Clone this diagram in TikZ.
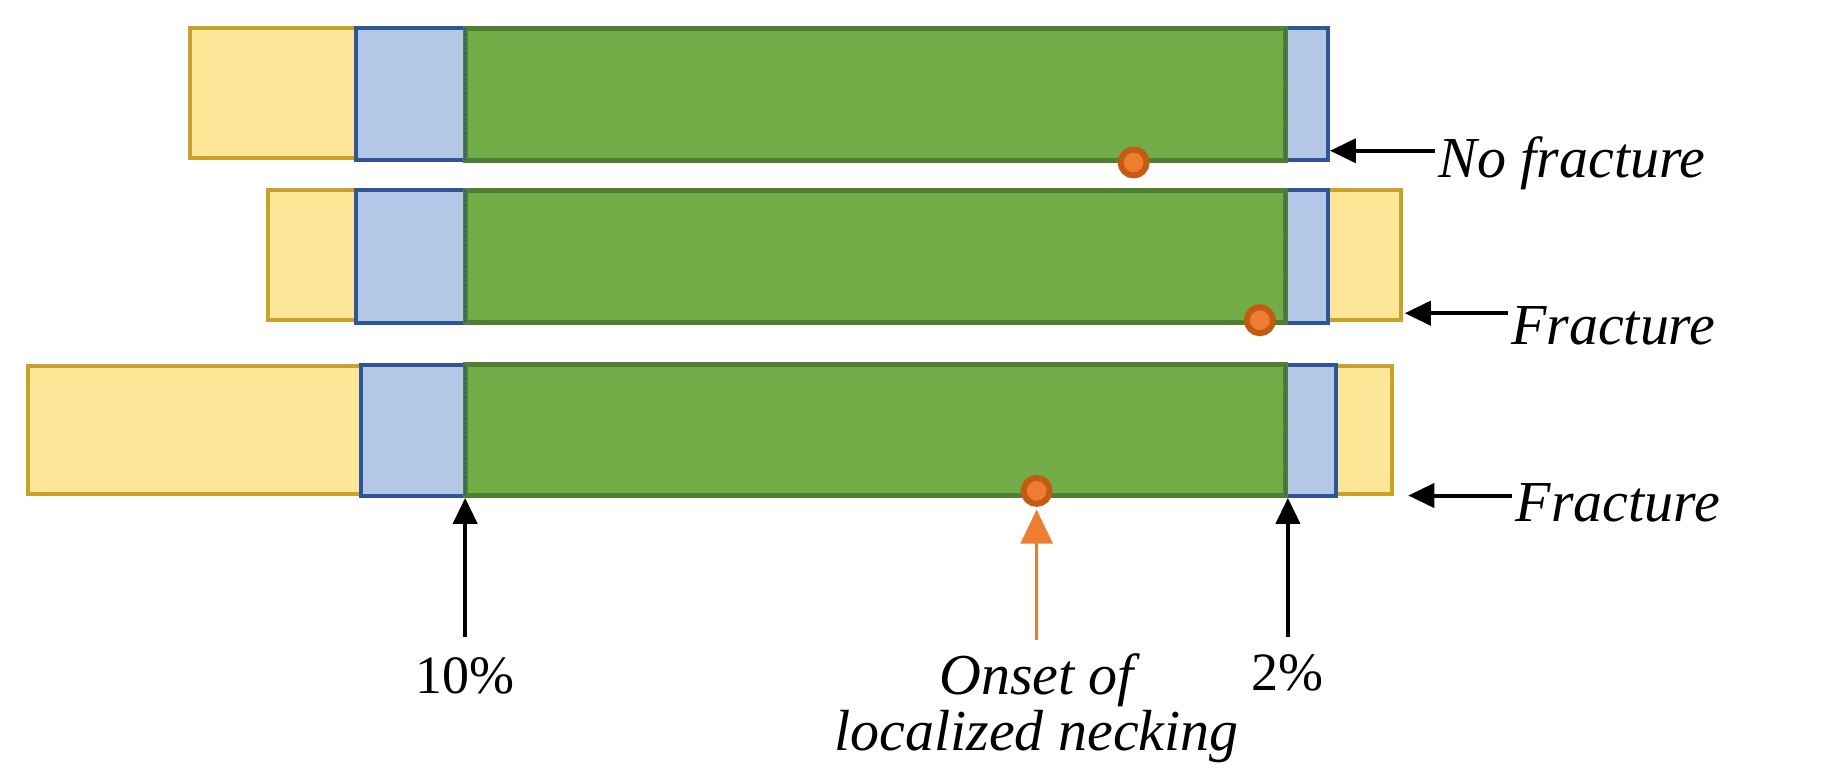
\documentclass[tikz,border=0pt]{standalone}
\usepackage{fontspec}
\setmainfont{Liberation Serif}
\usetikzlibrary{arrows.meta}
\definecolor{yel}{HTML}{FFE699}
\definecolor{yeld}{HTML}{C9A227}
\definecolor{blu}{HTML}{B4C7E7}
\definecolor{blud}{HTML}{2F5597}
\definecolor{grn}{HTML}{70AD47}
\definecolor{grnd}{HTML}{507E32}
\definecolor{org}{HTML}{ED7D31}
\definecolor{orgd}{HTML}{C55A11}
\begin{document}
\begin{tikzpicture}[x=1.169pt,y=-1.169pt,
 Y/.style={fill=yel,draw=yeld,line width=4pt},
 B/.style={fill=blu,draw=blud,line width=4pt},
 G/.style={fill=grn,draw=grnd,line width=5pt},
 dot/.style={circle,fill=org,draw=orgd,line width=6pt,minimum size=26pt,inner sep=0},
 ar/.style={-{Triangle[length=26pt,width=24pt]},line width=4pt},
 lab/.style={font=\fontsize{58}{64}\selectfont\itshape,anchor=west},
 pl/.style={font=\fontsize{54}{60}\selectfont}]
\useasboundingbox (0,0) rectangle (1565,666);
% row 1
\draw[Y] (163,24) rectangle (305,135);
\draw[B] (305,24) rectangle (398,137);
\draw[B] (1100,24) rectangle (1136,137);
\draw[G] (398,24) rectangle (1100,137);
\node[dot] (d1) at (970,139) {};
% row 2
\draw[Y] (229,163) rectangle (305,274);
\draw[Y] (1136,163) rectangle (1199,274);
\draw[B] (305,163) rectangle (398,276);
\draw[B] (1100,163) rectangle (1136,276);
\draw[G] (398,163) rectangle (1100,276);
\node[dot] (d2) at (1078,274) {};
% row 3
\draw[Y] (24,313) rectangle (309,423);
\draw[Y] (1143,313) rectangle (1191,423);
\draw[B] (309,312) rectangle (398,424);
\draw[B] (1100,312) rectangle (1143,424);
\draw[G] (398,312) rectangle (1100,424);
\node[dot] (d3) at (887,420) {};
\foreach \y/\z in {24/137,163/276,312/424}{
 \draw[blud,densely dotted,line width=1.5pt] (398,\y) -- (398,\z);
 \draw[blud,densely dotted,line width=1.5pt] (1100,\y) -- (1100,\z);}
% bottom labels
\node[pl] (p10) at (398,578) {10\%};
\node[pl] (p2) at (1102,576) {2\%};
\coordinate (t10) at (398,426);
\coordinate (t2) at (1102,426);
\draw[ar] (398,545) -- (t10);
\draw[ar] (1102,545) -- (t2);
\node[font=\fontsize{58}{56}\selectfont\itshape,align=center] (on) at (887,606) {Onset of\\localized necking};
\coordinate (to) at (887,436);
\draw[org,line width=2.5pt,-{Triangle[length=34pt,width=32pt]}] (887,548) -- (to);
% right labels
\node[lab] (l1) at (1228,140) {No fracture};
\node[lab] (l2) at (1290,279) {Fracture};
\node[lab] (l3) at (1294,430) {Fracture};
\coordinate (a1) at (1138,129);
\coordinate (a2) at (1202,268);
\coordinate (a3) at (1205,424);
\draw[ar] (l1.west|-a1) -- (a1);
\draw[ar] (l2.west|-a2) -- (a2);
\draw[ar] (l3.west|-a3) -- (a3);
\end{tikzpicture}
\end{document}
